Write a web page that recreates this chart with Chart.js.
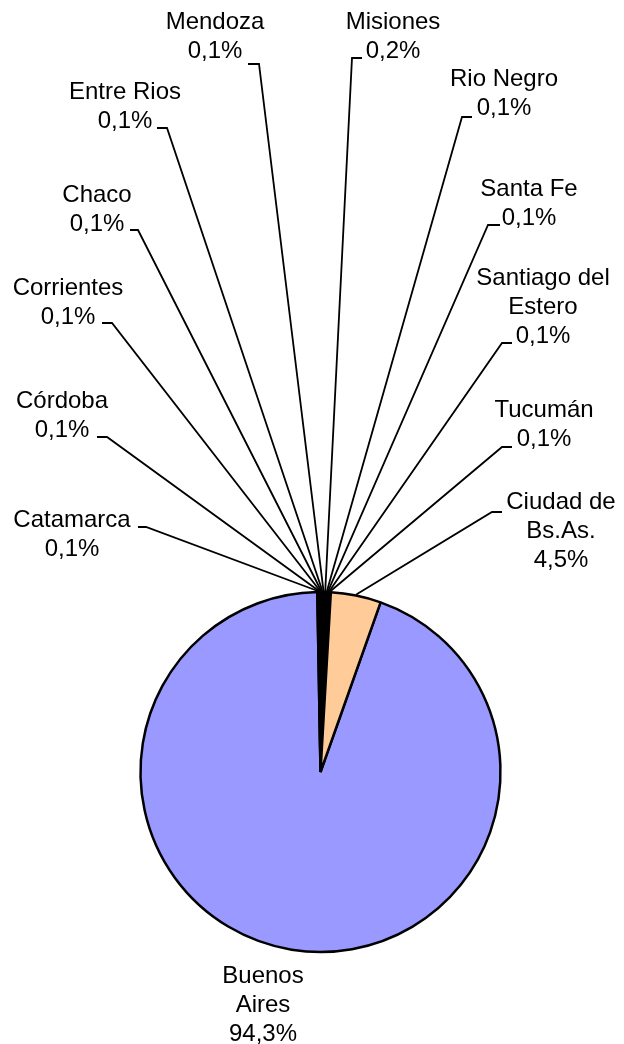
<!DOCTYPE html>
<html>
<head>
<meta charset="utf-8">
<script src="https://cdn.jsdelivr.net/npm/chart.js@4/dist/chart.umd.min.js"></script>
<style>
  html, body { margin: 0; padding: 0; background: #fff; }
  #pie { display: block; }
</style>
</head>
<body>
<canvas id="pie" width="624" height="1044"></canvas>
<script>
  // data
  const provinces = ['Buenos Aires', 'Catamarca', 'Córdoba', 'Corrientes', 'Chaco', 'Entre Rios',
    'Mendoza', 'Misiones', 'Rio Negro', 'Santa Fe', 'Santiago del Estero', 'Tucumán', 'Ciudad de Bs.As.'];
  const shares = [94.3, 0.1, 0.1, 0.1, 0.1, 0.1, 0.1, 0.2, 0.1, 0.1, 0.1, 0.1, 4.5];
  const sliceColors = ['#9999FF', '#000000', '#000000', '#000000', '#000000', '#000000',
    '#000000', '#000000', '#000000', '#000000', '#000000', '#000000', '#FFCC99'];

  // label layout: wrapped text, centre x, first line y, leader stub [x near text, x far, y]
  const labelLines = [['Buenos', 'Aires'], ['Catamarca'], ['Córdoba'], ['Corrientes'], ['Chaco'],
    ['Entre Rios'], ['Mendoza'], ['Misiones'], ['Rio Negro'], ['Santa Fe'],
    ['Santiago del', 'Estero'], ['Tucumán'], ['Ciudad de', 'Bs.As.']];
  const labelPos = [[263, 976], [72, 520], [62, 401], [68, 288], [97, 195], [125, 92],
    [215, 22], [393, 22], [504, 79], [529, 189], [543, 278], [544, 410], [561, 502]];
  const stubs = [null, [138, 146, 527], [97, 107, 437], [102, 112, 323], [130, 138, 230],
    [157, 167, 128], [248, 259, 64], [362, 352, 58], [472, 462, 117], [500, 488, 225],
    [512, 502, 343], [512, 502, 447], [502, 492, 512]];
  const lineGap = 29;

  const fmtPct = v => v.toFixed(1).replace('.', ',') + '%';

  const labelPlugin = {
    id: 'pieLabels',
    afterDatasetsDraw(chart) {
      const ctx = chart.ctx;
      const arcs = chart.getDatasetMeta(0).data;
      ctx.save();
      ctx.strokeStyle = '#000';
      ctx.lineWidth = 1.8;
      arcs.forEach((arc, i) => {
        const s = stubs[i];
        if (!s) return;
        const p = arc.getProps(['x', 'y', 'startAngle', 'endAngle', 'outerRadius']);
        const mid = (p.startAngle + p.endAngle) / 2;
        const ex = p.x + Math.cos(mid) * (p.outerRadius + 1);
        const ey = p.y + Math.sin(mid) * (p.outerRadius + 1);
        ctx.beginPath();
        ctx.moveTo(s[0], s[2]);
        ctx.lineTo(s[1], s[2]);
        ctx.lineTo(ex, ey);
        ctx.stroke();
      });
      ctx.fillStyle = '#000';
      ctx.font = '24px "Liberation Sans", Arial, sans-serif';
      ctx.textAlign = 'center';
      ctx.textBaseline = 'middle';
      provinces.forEach((name, i) => {
        const lines = labelLines[i].concat([fmtPct(shares[i])]);
        const [x, y] = labelPos[i];
        lines.forEach((t, k) => ctx.fillText(t, x, y + k * lineGap));
      });
      ctx.restore();
    }
  };

  new Chart(document.getElementById('pie').getContext('2d'), {
    type: 'pie',
    data: {
      labels: provinces,
      datasets: [{
        data: shares,
        backgroundColor: sliceColors,
        borderColor: '#000',
        borderWidth: 2.5,
        radius: 180
      }]
    },
    options: {
      responsive: false,
      animation: false,
      devicePixelRatio: 1,
      events: [],
      rotation: 19.5,
      layout: { padding: { left: 17, right: 0, top: 500, bottom: 0 } },
      plugins: { legend: { display: false }, tooltip: { enabled: false } }
    },
    plugins: [labelPlugin]
  });
</script>
</body>
</html>
